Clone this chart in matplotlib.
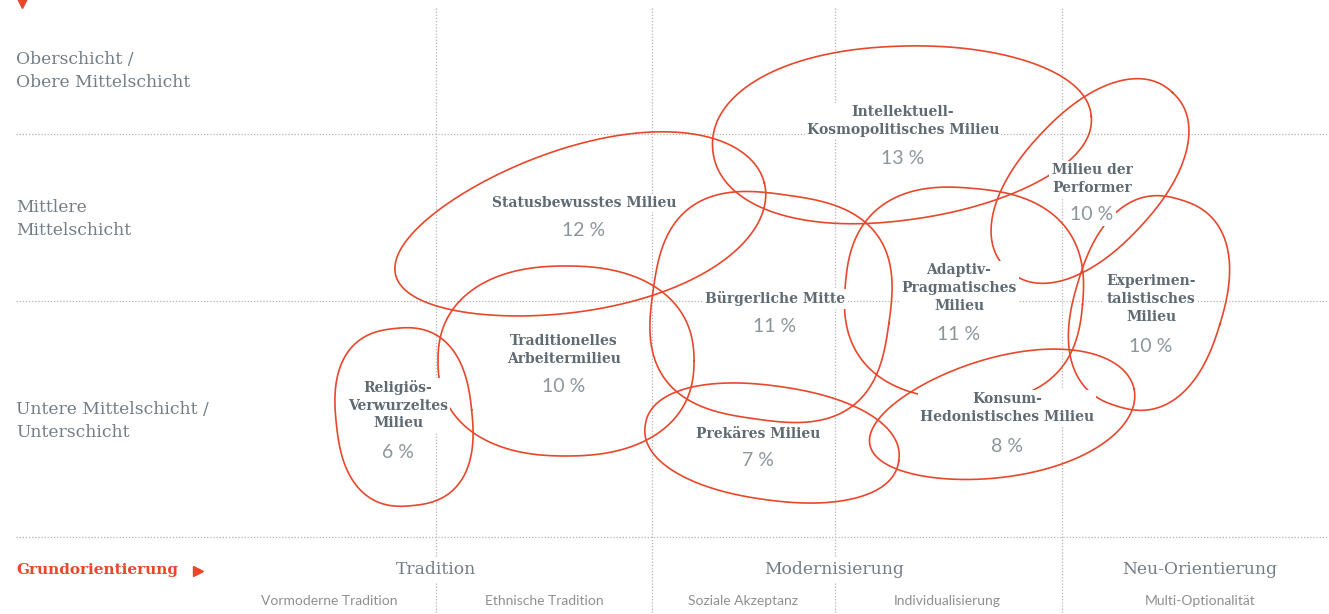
import numpy as np
import matplotlib.pyplot as plt

# Sinus-Milieus: Namen und Anteile
milieus = [
    "Intellektuell-\nKosmopolitisches Milieu",
    "Statusbewusstes Milieu",
    "Religiös-\nVerwurzeltes\nMilieu",
    "Traditionelles\nArbeitermilieu",
    "Bürgerliche Mitte",
    "Adaptiv-\nPragmatisches\nMilieu",
    "Milieu der\nPerformer",
    "Experimen-\ntalistisches\nMilieu",
    "Prekäres Milieu",
    "Konsum-\nHedonistisches Milieu",
]
shares = [13, 12, 6, 10, 11, 11, 10, 10, 7, 8]

schichten = ["Oberschicht /\nObere Mittelschicht", "Mittlere\nMittelschicht",
             "Untere Mittelschicht /\nUnterschicht"]
orientierung = ["Tradition", "Modernisierung", "Neu-Orientierung"]
unterorientierung = ["Vormoderne Tradition", "Ethnische Tradition", "Soziale Akzeptanz",
                     "Individualisierung", "Multi-Optionalität"]

# Lage der Milieus in der Karte (Pixelraster 1329 x 614)
# cx, cy, halbe Breite, halbe Höhe, Drehung, Eckigkeit, Eiform
shape_cx = [902, 580, 404, 566, 771, 964, 1090, 1149, 772, 1002]
shape_cy = [133, 229, 417, 361, 307, 294, 181, 303, 443, 417]
shape_a = [190, 190, 68, 128, 119, 119, 121, 74, 128, 135]
shape_b = [87, 82, 89, 95, 113, 106, 68, 108, 57, 60]
shape_ang = [-5, -14, -6, 0, 8, 5, -47, 17, 8, -12]
shape_n = [2.1, 2.0, 2.5, 2.3, 2.8, 2.5, 2.2, 2.4, 2.2, 2.0]
shape_k = [-0.1, 0.15, 0, 0, 0, 0, 0, 0, 0, 0.12]

label_x = [903, 584, 398, 564, 775, 959, 1092, 1151, 758, 1007]
label_y = [121, 203, 405, 350, 299, 288, 179, 299, 434, 408]
pct_y = [158, 230, 452, 386, 327, 334, 215, 346, 461, 446]

schicht_y = [71, 219, 421]
orient_x = [436, 834, 1200]
unter_x = [329, 544, 743, 947, 1200]
vlines_x = [436, 652, 835, 1062]
hlines_y = [134, 301, 537]

RED = "#e8472c"
GRID = "#b4b4b4"
SLAB = "DejaVu Serif"


def blob(cx, cy, a, b, ang, n=2.0, k=0.0, num=500):
    t = np.linspace(0, 2 * np.pi, num)
    c, s = np.cos(t), np.sin(t)
    u = a * np.sign(c) * np.abs(c) ** (2 / n)
    v = b * np.sign(s) * np.abs(s) ** (2 / n)
    v = v * (1 + k * u / a)
    r = np.deg2rad(ang)
    x = cx + u * np.cos(r) - v * np.sin(r)
    y = cy + u * np.sin(r) + v * np.cos(r)
    return x, y


fig = plt.figure(figsize=(13.29, 6.14), dpi=100)
ax = fig.add_axes([0, 0, 1, 1])
ax.set_xlim(0, 1329)
ax.set_ylim(614, 0)
ax.axis("off")

# Raster
for y in hlines_y:
    ax.plot([16, 1329], [y, y], color=GRID, lw=0.9, ls=(0, (1, 1.5)), zorder=1)
for x in vlines_x:
    ax.plot([x, x], [8, 614], color=GRID, lw=0.9, ls=(0, (1, 1.5)), zorder=1)

# Milieu-Umrisse
for i in range(len(milieus)):
    x, y = blob(shape_cx[i], shape_cy[i], shape_a[i], shape_b[i],
                shape_ang[i], shape_n[i], shape_k[i])
    ax.plot(x, y, color=RED, lw=1.2, zorder=2)

box = dict(facecolor="white", edgecolor="none", pad=1.5)
for i, name in enumerate(milieus):
    ax.text(label_x[i], label_y[i], name, ha="center", va="center",
            family=SLAB, weight="bold", fontsize=10, color="#5f6a72",
            linespacing=1.35, bbox=box, zorder=3)
    ax.text(label_x[i], pct_y[i], f"{shares[i]} %", ha="center", va="center",
            family="Lato", fontsize=14, color="#8c969c",
            bbox=box, zorder=3)

# Schichten links
for lab, y in zip(schichten, schicht_y):
    ax.text(16, y, lab, ha="left", va="center", family=SLAB, fontsize=12.3,
            color="#737d85", linespacing=1.45, zorder=3)

# Grundorientierung
ax.plot(22, 2, marker="v", color=RED, markersize=8, zorder=3, clip_on=False)
ax.text(16, 570, "Grundorientierung", ha="left", va="center", family=SLAB,
        weight="bold", fontsize=11, color=RED, zorder=3)
ax.plot(198, 571, marker=">", color=RED, markersize=7, zorder=3)

for lab, x in zip(orientierung, orient_x):
    ax.text(x, 570, lab, ha="center", va="center", family=SLAB, fontsize=12.3,
            color="#737d85", bbox=dict(facecolor="white", edgecolor="none", pad=3),
            zorder=3)
for lab, x in zip(unterorientierung, unter_x):
    ax.text(x, 601, lab, ha="center", va="center", family="Lato",
            fontsize=10, color="#8f8f8f", zorder=3)

fig.savefig("out.png", dpi=100)
